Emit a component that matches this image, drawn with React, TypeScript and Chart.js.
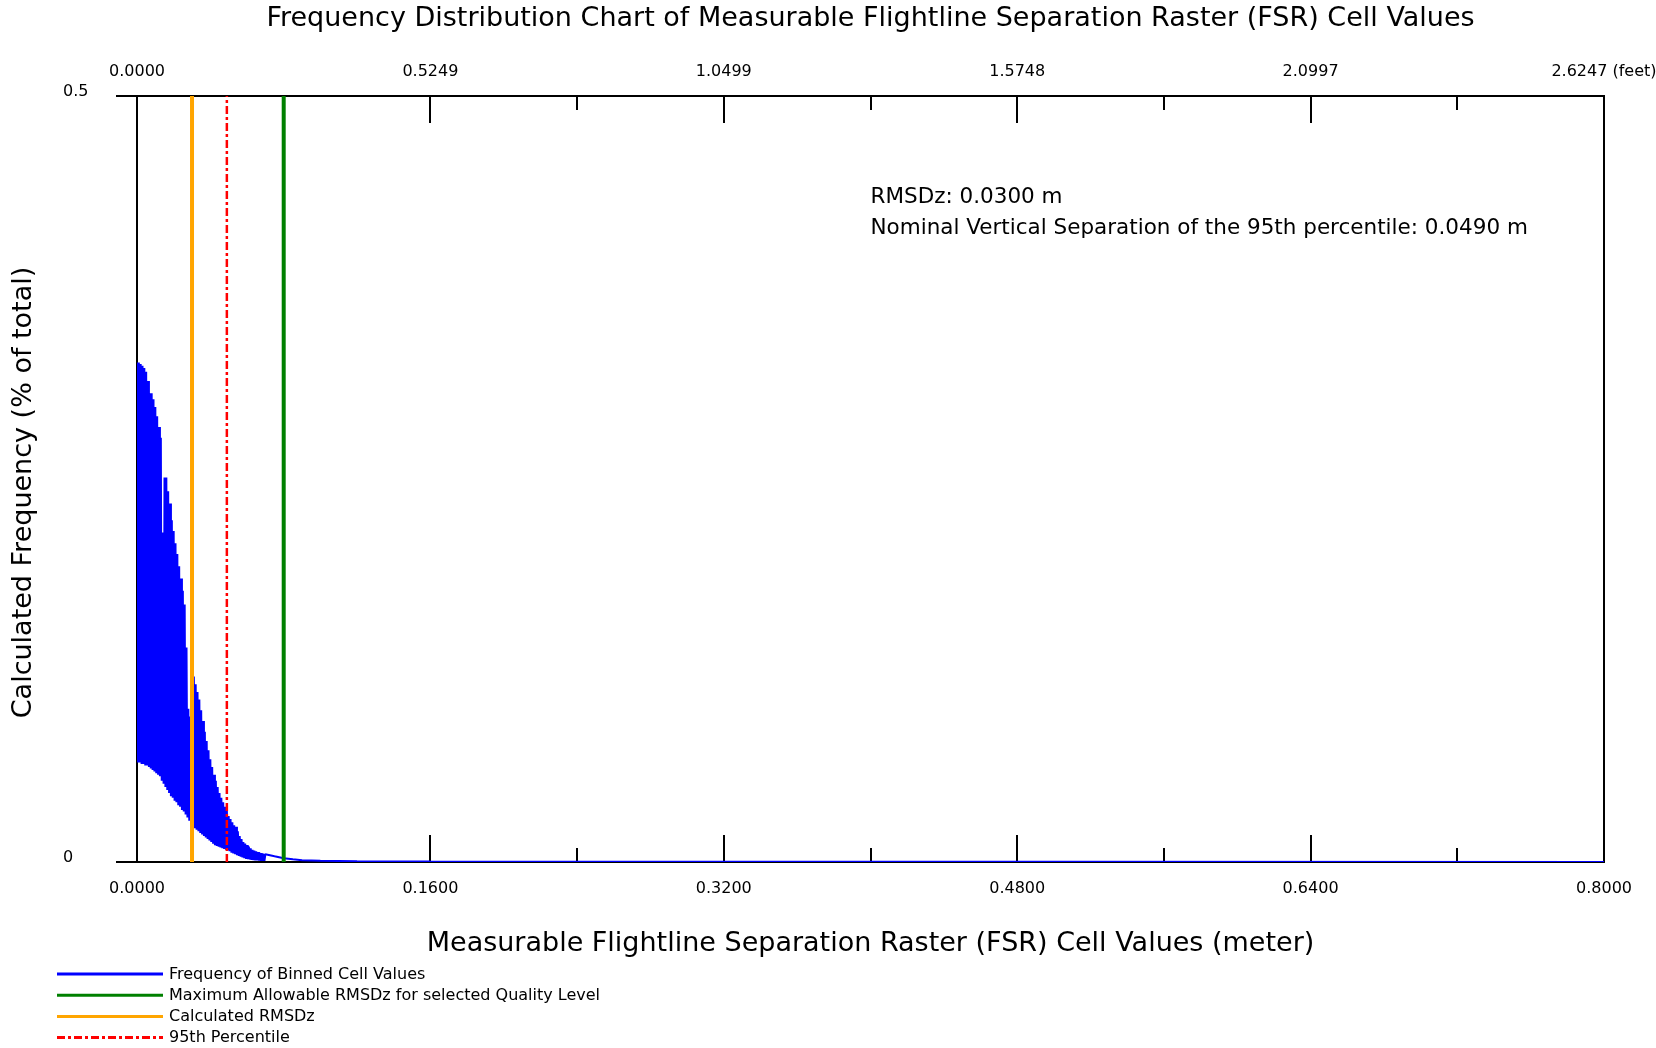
import React, { useEffect, useRef } from "react";
import { Chart, registerables } from "chart.js";

Chart.register(...registerables);

// ---------- text ----------
const CHART_TITLE =
  "Frequency Distribution Chart of Measurable Flightline Separation Raster (FSR) Cell Values";
const X_TITLE = "Measurable Flightline Separation Raster (FSR) Cell Values (meter)";
const Y_TITLE = "Calculated Frequency (% of total)";

// ---------- axes ----------
const meterTickLabels = ["0.0000", "0.1600", "0.3200", "0.4800", "0.6400", "0.8000"];
const feetTickLabels = ["0.0000", "0.5249", "1.0499", "1.5748", "2.0997", "2.6247 (feet)"];
const yTickLabels = ["0", "0.5"];
const X_MIN = 0;
const X_MAX = 0.8;
const Y_MIN = 0;
const Y_MAX = 0.5;
const MAJOR_STEP = 0.16;
const MINOR_STEP = 0.08;

// ---------- series: binned frequencies ----------
const BIN_WIDTH = 0.0005; // m
// frequencies of even bins (0.000, 0.001, 0.002 ... 0.070 m)
const evenBinFreq = [
  0.326, 0.326, 0.325, 0.324, 0.3225, 0.32, 0.314, 0.306, 0.306, 0.302,
  0.297, 0.291, 0.284, 0.277, 0.215, 0.251, 0.251, 0.242, 0.234, 0.223,
  0.216, 0.208, 0.201, 0.193, 0.185, 0.177, 0.168, 0.14, 0.1, 0.095,
  0.09, 0.121, 0.116, 0.111, 0.106, 0.099, 0.092, 0.085, 0.079, 0.073,
  0.067, 0.062, 0.057, 0.053, 0.049, 0.045, 0.042, 0.039, 0.036, 0.034,
  0.03, 0.028, 0.026, 0.024, 0.023, 0.02, 0.017, 0.015, 0.013, 0.012,
  0.011, 0.01, 0.009, 0.008, 0.0075, 0.007, 0.0065, 0.006, 0.0058, 0.0054,
  0.005,
];
// frequencies of odd bins (0.0005, 0.0015 ... 0.0695 m)
const oddBinFreq = [
  0.065, 0.065, 0.064, 0.064, 0.063, 0.063, 0.062, 0.061, 0.06, 0.059,
  0.058, 0.057, 0.056, 0.053, 0.051, 0.049, 0.047, 0.045, 0.043, 0.042,
  0.04, 0.039, 0.037, 0.036, 0.034, 0.033, 0.031, 0.029, 0.027, 0.025,
  0.023, 0.022, 0.021, 0.02, 0.019, 0.018, 0.017, 0.016, 0.015, 0.014,
  0.013, 0.012, 0.011, 0.0105, 0.01, 0.0095, 0.009, 0.0085, 0.008, 0.0075,
  0.007, 0.006, 0.0055, 0.005, 0.0045, 0.004, 0.0035, 0.003, 0.0025, 0.002,
  0.0018, 0.0016, 0.0014, 0.0012, 0.0011, 0.001, 0.0009, 0.0008, 0.0008, 0.0007,
];
// sparse tail of the distribution
const tailValues = [0.075, 0.08, 0.085, 0.09, 0.1, 0.12, 0.16, 0.3, 0.5, 0.8];
const tailFreq = [0.0037, 0.0025, 0.0018, 0.0012, 0.0008, 0.0005, 0.0003, 0.0002, 0.0002, 0.0];

// ---------- reference lines ----------
const seriesNames = [
  "Frequency of Binned Cell Values",
  "Maximum Allowable RMSDz for selected Quality Level",
  "Calculated RMSDz",
  "95th Percentile",
];
const rmsdzMaxAllowed = 0.08;
const rmsdzCalculated = 0.03;
const percentile95 = 0.049;

const FONT = "'DejaVu Sans', Verdana, sans-serif";
const BLACK = "#000000";

function buildFrequencyPoints() {
  const pts: { x: number; y: number }[] = [];
  for (let k = 0; k < evenBinFreq.length; k++) {
    pts.push({ x: 2 * k * BIN_WIDTH, y: evenBinFreq[k] });
    if (k < oddBinFreq.length) pts.push({ x: (2 * k + 1) * BIN_WIDTH, y: oddBinFreq[k] });
  }
  for (let i = 0; i < tailValues.length; i++) pts.push({ x: tailValues[i], y: tailFreq[i] });
  return pts;
}

function refLine(v: number) {
  return [
    { x: v, y: Y_MIN },
    { x: v, y: Y_MAX },
  ];
}

const overlayPlugin = {
  id: "overlay",
  afterDraw(chart: any) {
    const ctx = chart.ctx as CanvasRenderingContext2D;
    const xs = chart.scales.x;
    const ys = chart.scales.y;
    ctx.save();
    ctx.fillStyle = BLACK;

    // y-axis title
    ctx.save();
    ctx.translate(24, 492.5);
    ctx.rotate(-Math.PI / 2);
    ctx.font = `27px ${FONT}`;
    ctx.textAlign = "center";
    ctx.textBaseline = "middle";
    ctx.fillText(Y_TITLE, 0, 0);
    ctx.restore();

    // annotation
    ctx.font = `21.5px ${FONT}`;
    ctx.textAlign = "left";
    ctx.textBaseline = "alphabetic";
    const ax = xs.getPixelForValue(0.4);
    const ay = ys.getPixelForValue(0.43);
    ctx.fillText(`RMSDz: ${rmsdzCalculated.toFixed(4)} m`, ax, ay);
    ctx.fillText(
      `Nominal Vertical Separation of the 95th percentile: ${percentile95.toFixed(4)} m`,
      ax,
      ay + 31
    );

    // legend
    ctx.font = `16px ${FONT}`;
    ctx.textBaseline = "middle";
    chart.data.datasets.forEach((ds: any, i: number) => {
      const y = 974 + i * 21.2;
      ctx.save();
      ctx.strokeStyle = ds.borderColor;
      ctx.lineWidth = 3;
      ctx.setLineDash(ds.borderDash || []);
      ctx.beginPath();
      ctx.moveTo(57, y);
      ctx.lineTo(163, y);
      ctx.stroke();
      ctx.restore();
      ctx.fillStyle = BLACK;
      ctx.fillText(ds.label, 169, y + 0.5);
    });
    ctx.restore();
  },
};

export default function App() {
  const canvasRef = useRef<HTMLCanvasElement | null>(null);

  useEffect(() => {
    if (!canvasRef.current) return;
    Chart.defaults.font.family = FONT;
    const chart = new Chart(canvasRef.current, {
      type: "line",
      data: {
        datasets: [
          {
            label: seriesNames[0],
            data: buildFrequencyPoints(),
            borderColor: "#0000ff",
            backgroundColor: "#0000ff",
            borderWidth: 2,
            pointRadius: 0,
            tension: 0,
            borderJoinStyle: "bevel",
            order: 4,
          },
          {
            label: seriesNames[1],
            data: refLine(rmsdzMaxAllowed),
            borderColor: "#008000",
            backgroundColor: "#008000",
            borderWidth: 4,
            pointRadius: 0,
            order: 1,
          },
          {
            label: seriesNames[2],
            data: refLine(rmsdzCalculated),
            borderColor: "#ffa500",
            backgroundColor: "#ffa500",
            borderWidth: 4,
            pointRadius: 0,
            order: 2,
          },
          {
            label: seriesNames[3],
            data: refLine(percentile95),
            borderColor: "#ff0000",
            backgroundColor: "#ff0000",
            borderWidth: 2.5,
            borderDash: [8, 3, 3, 3],
            pointRadius: 0,
            order: 3,
          },
        ],
      } as any,
      options: {
        animation: false,
        responsive: false,
        maintainAspectRatio: false,
        events: [],
        layout: { padding: { left: 63, right: 52, top: 0, bottom: 86 } },
        plugins: {
          legend: { display: false },
          tooltip: { enabled: false },
          title: {
            display: true,
            fullSize: false,
            text: CHART_TITLE,
            color: BLACK,
            font: { family: FONT, size: 27, weight: "normal" },
            padding: { top: 2.5, bottom: 0 },
          },
        },
        scales: {
          x: {
            type: "linear",
            position: "bottom",
            weight: 1,
            min: X_MIN,
            max: X_MAX,
            ticks: {
              stepSize: MAJOR_STEP,
              autoSkip: false,
              maxRotation: 0,
              padding: 44.6,
              color: BLACK,
              font: { size: 16 },
              callback: (_v: any, i: number) => meterTickLabels[i],
            },
            grid: {
              drawOnChartArea: false,
              drawTicks: true,
              tickLength: -27,
              tickWidth: 2,
              tickColor: BLACK,
              lineWidth: 2,
              color: BLACK,
            },
            border: { display: true, color: BLACK, width: 2 },
            title: {
              display: true,
              text: X_TITLE,
              color: BLACK,
              font: { size: 27 },
              padding: { top: 0, bottom: 2 },
            },
            afterFit: (s: any) => {
              s.height = 100;
              s.paddingLeft = 0;
              s.paddingRight = 0;
            },
          },
          xMinor: {
            type: "linear",
            position: "bottom",
            weight: 0,
            display: true,
            min: X_MIN,
            max: X_MAX,
            ticks: { display: false, stepSize: MINOR_STEP },
            grid: {
              drawOnChartArea: false,
              drawTicks: true,
              tickLength: -14,
              tickWidth: 2,
              tickColor: BLACK,
              lineWidth: 2,
              color: BLACK,
            },
            border: { display: false },
            afterFit: (s: any) => {
              s.height = 0;
              s.paddingLeft = 0;
              s.paddingRight = 0;
            },
          },
          x2: {
            type: "linear",
            position: "top",
            weight: 1,
            display: true,
            min: X_MIN,
            max: X_MAX,
            ticks: {
              stepSize: MAJOR_STEP,
              autoSkip: false,
              maxRotation: 0,
              padding: 41.4,
              color: BLACK,
              font: { size: 16 },
              callback: (_v: any, i: number) => feetTickLabels[i],
            },
            grid: {
              drawOnChartArea: false,
              drawTicks: true,
              tickLength: -27,
              tickWidth: 2,
              tickColor: BLACK,
              lineWidth: 2,
              color: BLACK,
            },
            border: { display: true, color: BLACK, width: 2 },
            afterFit: (s: any) => {
              s.height = 61.1;
              s.paddingLeft = 0;
              s.paddingRight = 0;
            },
          },
          x2Minor: {
            type: "linear",
            position: "top",
            weight: 0,
            display: true,
            min: X_MIN,
            max: X_MAX,
            ticks: { display: false, stepSize: MINOR_STEP },
            grid: {
              drawOnChartArea: false,
              drawTicks: true,
              tickLength: -14,
              tickWidth: 2,
              tickColor: BLACK,
              lineWidth: 2,
              color: BLACK,
            },
            border: { display: false },
            afterFit: (s: any) => {
              s.height = 0;
              s.paddingLeft = 0;
              s.paddingRight = 0;
            },
          },
          y: {
            type: "linear",
            position: "left",
            min: Y_MIN,
            max: Y_MAX,
            ticks: {
              stepSize: Y_MAX - Y_MIN,
              crossAlign: "far",
              labelOffset: -4.5,
              color: BLACK,
              font: { size: 16 },
              callback: (_v: any, i: number) => yTickLabels[i],
            },
            grid: {
              drawOnChartArea: false,
              drawTicks: true,
              tickLength: 21,
              tickWidth: 2,
              tickColor: BLACK,
              lineWidth: 2,
              color: BLACK,
            },
            border: { display: true, color: BLACK, width: 2 },
            afterFit: (s: any) => {
              s.width = 74;
              s.paddingTop = 0;
              s.paddingBottom = 0;
            },
          },
          yRight: {
            type: "linear",
            position: "right",
            display: true,
            min: Y_MIN,
            max: Y_MAX,
            ticks: { display: false },
            grid: { drawOnChartArea: false, drawTicks: false },
            border: { display: true, color: BLACK, width: 2 },
            afterFit: (s: any) => {
              s.width = 0;
              s.paddingTop = 0;
              s.paddingBottom = 0;
            },
          },
        },
      } as any,
      plugins: [overlayPlugin],
    });
    return () => chart.destroy();
  }, []);

  return (
    <div
      style={{
        position: "absolute",
        left: 0,
        top: 0,
        width: 1656,
        height: 1048,
        background: "#ffffff",
      }}
    >
      <canvas ref={canvasRef} width={1656} height={1048} style={{ display: "block" }} />
    </div>
  );
}
